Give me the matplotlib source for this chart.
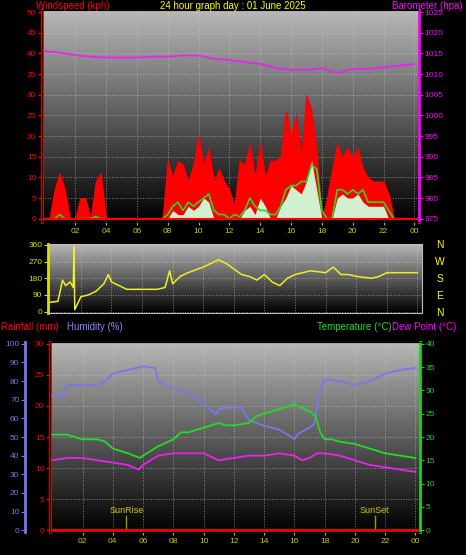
import numpy as np
import matplotlib.pyplot as plt

# wind, 20 minute steps
gust = [0, 0, 7, 11, 7, 0, 0, 5, 5, 0, 9, 11, 0, 0, 0, 0, 0, 0, 0, 0, 0, 0, 0, 0,
        14, 10, 14, 13, 9, 13, 20, 13, 17, 9, 12, 9, 7, 3, 14, 13, 18, 10, 18, 10, 14,
        14, 15, 26, 20, 25, 15, 30, 26, 16, 0, 5, 12, 18, 15, 17, 15, 17, 12, 10, 9, 9,
        9, 6, 0, 0, 0, 0]
avg = [0, 0, 0, 1, 0, 0, 0, 0, 0, 0, 0.5, 0, 0, 0, 0, 0, 0, 0, 0, 0, 0, 0, 0, 0,
       1, 3, 4, 2, 4, 3, 4, 5, 6, 2, 1, 1, 0, 1, 0.5, 2, 5, 3, 2, 2, 1,
       1, 3, 7, 8, 8, 9, 9, 13, 12, 2, 0, 0, 7, 7, 6, 7, 6, 7, 4, 4, 4,
       4, 2, 0, 0, 0, 0]
speed = [0] * 24 + [0, 2, 1, 1, 3, 2, 3, 5, 4, 0, 0, 0, 0, 0, 0, 2, 3, 1, 5, 3, 0,
                    0, 3, 5, 8, 7, 6, 9, 14, 7, 0, 0, 0, 5, 6, 5, 5, 6, 4, 3, 3, 3,
                    3, 0, 0, 0, 0, 0]
wind_t = np.arange(len(gust)) / 3

baro_t = np.arange(25)
baro = [1015.5, 1015.2, 1014.6, 1014.2, 1014.0, 1014.0, 1014.0, 1014.2, 1014.2, 1014.5,
        1014.5, 1013.7, 1013.4, 1012.9, 1012.5, 1011.5, 1011.0, 1011.0, 1011.4, 1010.3,
        1011.2, 1011.2, 1011.7, 1012.0, 1012.4]

dir_t = [0, 0.5, 0.8, 1, 1.3, 1.5, 1.55, 1.6, 2, 2.5, 3, 3.5, 3.8, 4, 5, 6, 7, 7.5, 7.8, 8,
         8.5, 9, 10, 10.5, 11, 11.5, 12, 12.5, 13, 13.5, 14, 14.5, 15, 15.5, 16, 17, 18,
         18.5, 19, 19.5, 20, 21, 21.5, 22, 23, 24]
wdir = [50, 55, 170, 140, 160, 130, 350, 10, 80, 90, 110, 150, 200, 160, 120, 120, 120, 130,
        220, 150, 190, 210, 240, 260, 280, 260, 230, 200, 190, 170, 200, 160, 140, 180, 200,
        220, 210, 240, 200, 200, 190, 180, 190, 210, 210, 210]

hum_t = [0, 0.7, 1, 2, 3, 3.5, 4, 5, 6, 6.8, 7, 8, 9, 10, 10.8, 11, 12, 12.5, 13, 14, 15, 16,
         16.3, 17, 17.3, 17.6, 18, 19, 20, 21, 22, 23, 24]
hum = [72, 72, 78, 78, 78, 80, 84, 86, 88, 87, 80, 76, 74, 68, 62, 65, 66, 66, 59, 56, 54, 49,
       52, 55, 57, 72, 81, 80, 78, 80, 84, 86, 87]
temp_t = [0, 1, 2, 3, 3.5, 4, 5, 5.8, 6, 7, 8, 8.5, 9, 10, 11, 11.5, 12, 13, 13.5, 14, 15, 16,
          17, 17.4, 17.7, 18, 18.5, 19, 20, 21, 22, 23, 24]
temp = [20.5, 20.5, 19.5, 19.5, 19, 17.5, 16.5, 15.5, 16, 18, 19.5, 21, 21, 22, 23, 22.5, 22.5,
        23, 24.5, 25, 26, 27, 25.5, 24.5, 21, 19.5, 19.5, 19, 18.5, 17.5, 16.5, 16, 15.5]
dew_t = [0, 1, 2, 3, 4, 5, 5.7, 6, 7, 8, 9, 10, 11, 12, 13, 14, 15, 16, 16.5, 17, 17.5, 18,
         19, 20, 21, 22, 23, 24]
dew = [15, 15.5, 15.5, 15, 14.5, 14, 13, 14, 16, 16.5, 16.5, 16.5, 15, 15.5, 16, 16, 16.5, 16,
       15, 15.5, 16.5, 16.5, 16, 15, 14, 13.5, 13, 12.5]
sunrise, sunset = 4.9, 21.3

hour_ticks = np.arange(2, 25, 2)
hour_labels = [f"{h % 24:02d}" for h in hour_ticks]

W, H = 466, 555
plt.rcParams['font.family'] = 'Liberation Sans'
plt.rcParams['font.size'] = 6
fig = plt.figure(figsize=(W / 100, H / 100), dpi=100, facecolor='black')

grad = np.linspace(0.72, 0.0, 256).reshape(-1, 1)


def box(x0, y0, x1, y1):
    return fig.add_axes([x0 / W, 1 - y1 / H, (x1 - x0) / W, (y1 - y0) / H])


def style(ax, ylim, ycol):
    ax.set_xlim(-0.15, 24.3)
    ax.set_ylim(*ylim)
    ax.imshow(grad, cmap='gray', vmin=0, vmax=1, aspect='auto',
              extent=[-0.15, 24.3, ylim[0], ylim[1]], zorder=0)
    ax.grid(True, color='#c8c8c8', ls=':', lw=0.7, alpha=0.6)
    ax.set_facecolor('black')
    for s in ax.spines.values():
        s.set_color('#bbbbbb')
    ax.spines['left'].set_color(ycol)
    ax.spines['left'].set_linewidth(2)
    ax.tick_params(axis='y', colors=ycol, length=3, pad=1)
    ax.tick_params(axis='x', colors='#cccc00', length=2, pad=2)
    ax.set_xticks(hour_ticks)
    ax.set_xticklabels(hour_labels)


# top: wind and barometer
ax1 = box(42, 10, 419, 222)
style(ax1, (-0.8, 50.5), 'red')
ax1.set_yticks(range(0, 51, 5))
ax1.fill_between(wind_t, gust, color='red', lw=0.8, edgecolor='red', zorder=2)
ax1.fill_between(wind_t, speed, color='#d0f0d0', lw=0, zorder=3)
ax1.plot(wind_t, avg, color='#22dd22', lw=1.2, zorder=4)
ax1.axhline(0, color='red', lw=1.5, zorder=5)
axb = ax1.twinx()
axb.set_ylim(975 - 0.8, 1025.5)
axb.set_yticks(range(975, 1026, 5))
axb.tick_params(colors='magenta', length=3, pad=1)
axb.spines['right'].set_color('magenta')
axb.spines['right'].set_linewidth(2)
axb.plot(baro_t, baro, color='#ee22ee', lw=1.3)
fig.text(36 / W, 1 - 6 / H, 'Windspeed (kph)', color='red', fontsize=7, va='center')
fig.text(233 / W, 1 - 6 / H, '24 hour graph day : 01 June 2025', color='yellow',
         fontsize=7, va='center', ha='center')
fig.text(463 / W, 1 - 6 / H, 'Barometer (hpa)', color='magenta', fontsize=7,
         va='center', ha='right')

# middle: wind direction
ax2 = box(48, 244, 422, 313)
style(ax2, (-8, 365), '#dddd00')
ax2.set_yticks(range(0, 361, 90))
ax2.tick_params(axis='x', colors='black', labelsize=1)
ax2.plot(dir_t, wdir, color='#eeee22', lw=1.1, zorder=3)
for i, c in enumerate('NWSEN'):
    fig.text(440 / W, 1 - (245 + i * 17) / H, c, color='yellow', fontsize=7.5, ha='center',
             va='center')

# bottom: temperature, humidity, rain
ax3 = box(50, 342, 420, 532)
style(ax3, (-0.3, 30.3), 'red')
ax3.set_yticks(range(0, 31, 5))
ax3.axhline(0, color='red', lw=2, zorder=5)
for t, lab in [(sunrise, 'SunRise'), (sunset, 'SunSet')]:
    ax3.plot([t, t], [0, 2.3], color='#999900', lw=1, zorder=4)
    ax3.text(t, 2.5, lab, color='#cccc00', ha='center', va='bottom', fontsize=6.5, zorder=4)
axh = ax3.twinx()
axh.yaxis.tick_left()
axh.spines['left'].set_position(('outward', 18))
axh.spines['left'].set_color('#7777ee')
axh.spines['left'].set_linewidth(2)
axh.spines['right'].set_visible(False)
axh.set_ylim(-1, 101)
axh.set_yticks(range(0, 101, 10))
axh.tick_params(colors='#7777ee', length=3, pad=1)
axh.plot(hum_t, hum, color='#7777ee', lw=1.3)
axt = ax3.twinx()
axt.set_ylim(-0.4, 40.4)
axt.set_yticks(range(0, 41, 5))
axt.spines['right'].set_color('#22cc22')
axt.spines['right'].set_linewidth(2)
axt.tick_params(colors='#22cc22', length=3, pad=1)
axt.plot(temp_t, temp, color='#22dd22', lw=1.3)
axt.plot(dew_t, dew, color='#ee22ee', lw=1.3)
fig.text(1 / W, 1 - 327 / H, 'Rainfall (mm)', color='red', fontsize=7, va='center')
fig.text(67 / W, 1 - 327 / H, 'Humidity (%)', color='#8888ff', fontsize=7, va='center')
fig.text(392 / W, 1 - 327 / H, 'Temperature (°C)', color='#22dd22', fontsize=7,
         va='center', ha='right')
fig.text(392 / W, 1 - 327 / H, 'Dew Point (°C)', color='magenta', fontsize=7, va='center')

fig.savefig('out.png', dpi=100, facecolor='black')
